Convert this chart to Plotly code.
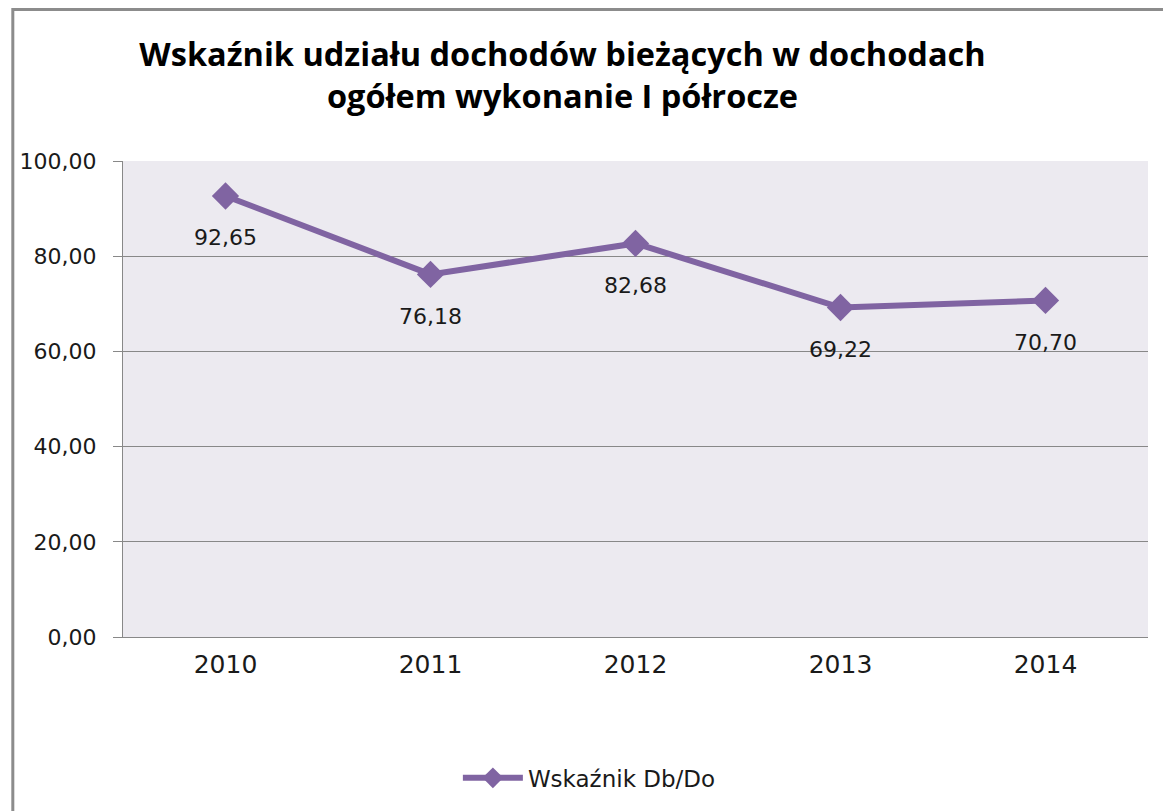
import plotly.graph_objects as go

years = ["2010", "2011", "2012", "2013", "2014"]
values = [92.65, 76.18, 82.68, 69.22, 70.70]
value_labels = ["92,65", "76,18", "82,68", "69,22", "70,70"]
y_ticks = [0, 20, 40, 60, 80, 100]
y_tick_labels = ["0,00", "20,00", "40,00", "60,00", "80,00", "100,00"]
series_name = "Wskaźnik Db/Do"
title_text = "Wskaźnik udziału dochodów bieżących w dochodach<br>ogółem wykonanie I półrocze"

PURPLE = "#8064A2"
GRID = "#888888"

fig = go.Figure()
fig.add_trace(go.Scatter(
    x=years, y=values, mode="lines+markers", name=series_name,
    line=dict(color=PURPLE, width=6),
    marker=dict(symbol="diamond", size=21, color=PURPLE),
    showlegend=True,
))

for i, (v, lab) in enumerate(zip(values, value_labels)):
    fig.add_annotation(x=i, y=v, text=lab, showarrow=False, yshift=-42,
                       font=dict(family="DejaVu Sans", size=22, color="#1a1a1a"))

fig.add_shape(type="rect", xref="paper", yref="paper",
              x0=-0.1075, x1=1.06, y0=-0.42, y1=1.3183,
              line=dict(color="#8c8c8c", width=3), fillcolor="rgba(0,0,0,0)",
              layer="below")

fig.update_layout(
    width=1171, height=811,
    margin=dict(l=112, r=31, t=153, b=182),
    paper_bgcolor="white",
    plot_bgcolor="#ECEAF0",
    title=dict(text=title_text, x=554.5 / 1171, xanchor="center",
               y=1 - 58 / 811, yanchor="middle",
               font=dict(family="Open Sans", size=32.5, color="#000000", weight="bold")),
    xaxis=dict(type="category", range=[-0.5, len(years) - 0.5],
               showgrid=False, showline=True, linecolor=GRID, linewidth=1,
               ticks="", ticklabelstandoff=5,
               tickfont=dict(family="DejaVu Sans", size=25, color="#1a1a1a")),
    yaxis=dict(range=[0, 100], tickvals=y_ticks, ticktext=y_tick_labels,
               showgrid=True, gridcolor=GRID, gridwidth=1, zeroline=False,
               showline=True, linecolor=GRID, linewidth=1,
               ticks="outside", ticklen=9, tickcolor=GRID, ticklabelstandoff=12,
               tickfont=dict(family="DejaVu Sans", size=22, color="#1a1a1a")),
    legend=dict(orientation="h", x=0.455, xanchor="center", y=-0.296, yanchor="middle",
                itemwidth=60,
                font=dict(family="DejaVu Sans", size=23, color="#1a1a1a")),
)

fig.write_html("out.html")
